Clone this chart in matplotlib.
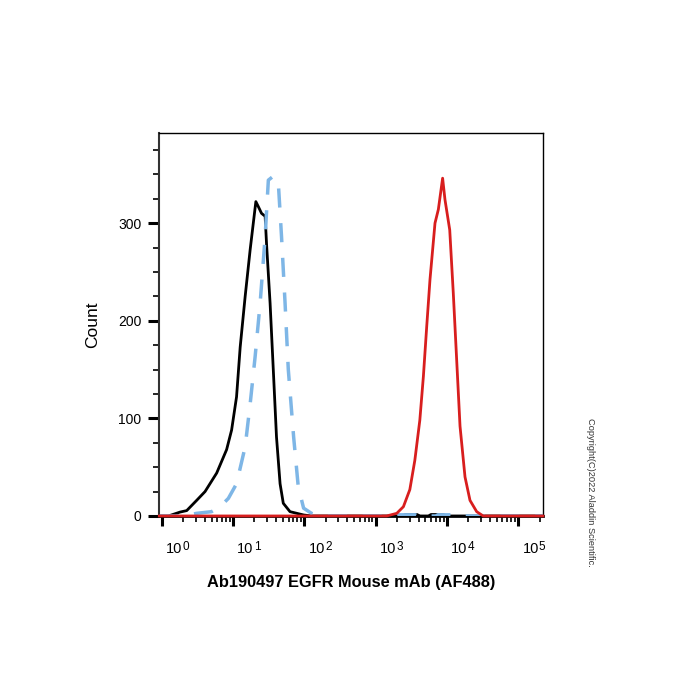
import matplotlib
matplotlib.use("Agg")
import matplotlib.pyplot as plt
from matplotlib.ticker import FixedLocator, NullFormatter
from matplotlib.transforms import ScaledTranslation

plt.rcParams["font.family"] = ["Liberation Sans", "DejaVu Sans"]

# isotype control (black, solid)
black_x = [0.93, 1.24, 1.81, 2.24, 3.09, 4.05, 5.9, 8.13, 9.55, 11.2, 12.6, 14.8,
           17.4, 20.9, 22.6, 25.1, 28.2, 29.5, 33.1, 36.7, 40.7, 45.7, 50.7, 63,
           98, 126, 2400, 2600, 3800, 4200, 5500, 6000, 9000, 9500, 222000]
black_y = [0, 0, 4, 5.5, 16, 25, 44, 68, 88, 122, 173, 225,
           273, 322, 317, 310, 307, 279, 218, 150, 81, 33, 13, 4.4,
           1, 0, 0, 1.5, 1.5, 0, 0, 1.5, 1.5, 0, 0]

# unstained (blue, dashed)
blue_x = [0.93, 2.0, 3.09, 5.0, 6.6, 8.6, 11.2, 14.8, 17.4, 20.4, 24.0, 28.2,
          31.3, 36.7, 43.2, 47.9, 53.7, 59.6, 70.8, 82.2, 97.7, 126, 158, 200,
          1900, 2100, 3600, 3900, 7000, 7500, 13000, 14000, 222000]
blue_y = [0, 0, 2.7, 4.4, 9.5, 18, 33, 71, 115, 163, 218, 286,
          344, 348, 341, 286, 218, 150, 81, 30, 8, 2.7, 0.5, 0,
          0, 1.2, 1.2, 0, 0, 1.2, 1.2, 0, 0]

# EGFR antibody (red)
red_x = [0.925, 1430, 1980, 2455, 3020, 3550, 4170, 4680, 5210, 5790, 6810, 7590,
         8710, 9400, 10960, 12300, 13710, 15280, 17950, 21090, 26180, 32360, 222800]
red_y = [0, 0, 2.7, 9.5, 27, 57, 98, 143, 194, 242, 300, 314,
         346, 324, 293, 228, 160, 92, 40, 16, 4.4, 0, 0]

decades = [1, 10, 100, 1000, 10000, 100000]
exponents = ["0", "1", "2", "3", "4", "5"]

fig = plt.figure(figsize=(7, 7), dpi=100)
ax = fig.add_axes([0.2276, 0.2629, 0.5481, 0.5467])

ax.plot(black_x, black_y, color="black", lw=2.0, zorder=3)
ax.plot(blue_x, blue_y, color="#7eb6e6", lw=2.5, dashes=(5.5, 4.5), zorder=4)
ax.plot(red_x, red_y, color="#d81e1e", lw=2.0, zorder=5, clip_on=False)

ax.set_xscale("log")
ax.set_xlim(10 ** -0.034, 10 ** 5.348)
ax.set_ylim(0, 392)

# x ticks
minors = [m * d for d in decades for m in range(2, 10)]
ax.xaxis.set_major_locator(FixedLocator(decades))
ax.xaxis.set_minor_locator(FixedLocator(minors))
ax.xaxis.set_minor_formatter(NullFormatter())
ax.set_xticklabels(["10"] * len(decades), fontsize=10.5)
ax.tick_params(axis="x", which="major", direction="out", length=7.5, width=2.2, pad=11.5)
ax.tick_params(axis="x", which="minor", direction="out", length=4, width=1.2)
shift = ScaledTranslation(12.5 / 100, 0, fig.dpi_scale_trans)
for lab in ax.get_xticklabels():
    lab.set_transform(lab.get_transform() + shift)
for d, e in zip(decades, exponents):
    ax.annotate(e, xy=(d, 0), xycoords=("data", "axes fraction"),
                xytext=(17.2, -22.5), textcoords="offset points",
                ha="center", va="center", fontsize=8.5)

# y ticks
ax.set_yticks([0, 100, 200, 300])
ax.set_yticks(range(25, 392, 25), minor=True)
ax.tick_params(axis="y", which="major", direction="out", length=8, width=2.2,
               labelsize=10, pad=5)
ax.tick_params(axis="y", which="minor", direction="out", length=4, width=1.2)

for side in ["top", "right"]:
    ax.spines[side].set_linewidth(1.0)
ax.spines["left"].set_linewidth(1.5)
ax.spines["left"].set_color("#333333")
ax.spines["bottom"].set_linewidth(2.0)

ax.set_ylabel("Count", fontsize=12.5)
ax.yaxis.set_label_coords(-0.155, 0.5)
ax.set_xlabel("Ab190497 EGFR Mouse mAb (AF488)", fontsize=11.8, fontweight="bold")
ax.xaxis.set_label_coords(0.5, -0.155)

fig.text(0.843, 0.297, "Copyright(C)2022 Aladdin Scientific.", rotation=-90,
         fontsize=6.7, color="#333333", ha="center", va="center")

fig.savefig("out.png", dpi=100)
